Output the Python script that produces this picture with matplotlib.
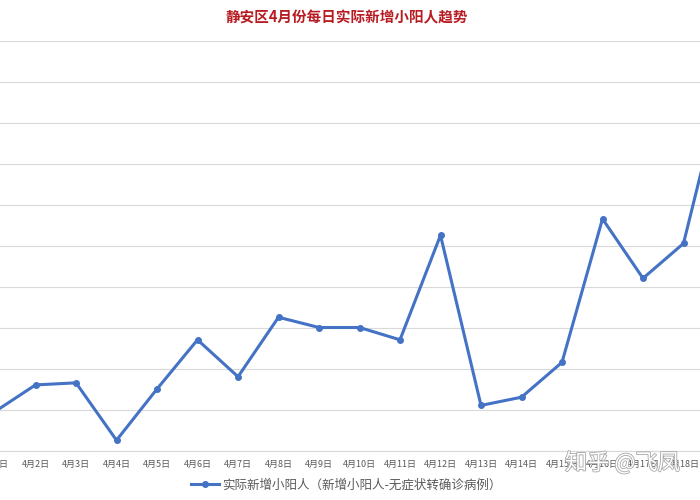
import matplotlib
matplotlib.use("Agg")
import matplotlib.pyplot as plt
import matplotlib.patheffects as pe

plt.rcParams['font.family'] = ['Noto Sans CJK SC', 'DejaVu Sans']

dates = ["4月1日", "4月2日", "4月3日", "4月4日", "4月5日", "4月6日", "4月7日",
         "4月8日", "4月9日", "4月10日", "4月11日", "4月12日", "4月13日", "4月14日",
         "4月15日", "4月16日", "4月17日", "4月18日", "4月19日"]
values = [19, 32, 33, 5, 30, 54, 36, 65, 60, 60, 54, 105, 22, 26, 43, 113, 84, 101, 181]
series_name = "实际新增小阳人（新增小阳人-无症状转确诊病例）"
title = "静安区4月份每日实际新增小阳人趋势"

fig = plt.figure(figsize=(7, 5), dpi=100)
# axes starts slightly left of the figure edge (chart is cropped)
ax = fig.add_axes([-5 / 700, 0.099, 705 / 700, 0.82])

x = list(range(len(dates)))
line, = ax.plot(x, values, color='#4472C4', linewidth=2.2, marker='o',
                markersize=4, label=series_name, zorder=3)

ax.set_yticks(range(0, 201, 20))
ax.set_yticklabels([])
ax.set_xticks(x)
ax.set_xticklabels(dates)
ax.set_xlim(0, 705 / 40.5)
ax.set_ylim(0, 200)
ax.tick_params(axis='x', length=0, labelsize=6.5, labelcolor='#595959', pad=7)
ax.tick_params(axis='y', length=0)
ax.grid(axis='y', color='#d9d9d9', linewidth=0.8)
ax.set_axisbelow(True)
for s in ['top', 'left', 'right']:
    ax.spines[s].set_visible(False)
ax.spines['bottom'].set_color('#d9d9d9')
ax.spines['bottom'].set_linewidth(0.8)

fig.text(0.496, 1 - 17 / 500, title, color='#B81C22', fontsize=10.5,
         fontweight='bold', ha='center', va='center')

fig.legend(handles=[line], loc='center', bbox_to_anchor=(0.495, 1 - 485 / 500),
           frameon=False, fontsize=9, labelcolor='#595959', handlelength=2.2,
           handletextpad=0.3)

fig.text(565 / 700, 1 - 463 / 500, "知乎 @飞凤", fontsize=16, color='white',
         ha='left', va='center', zorder=10,
         path_effects=[pe.withStroke(linewidth=1.2, foreground='#a8a8a8')])

fig.savefig("out.png", dpi=100)
